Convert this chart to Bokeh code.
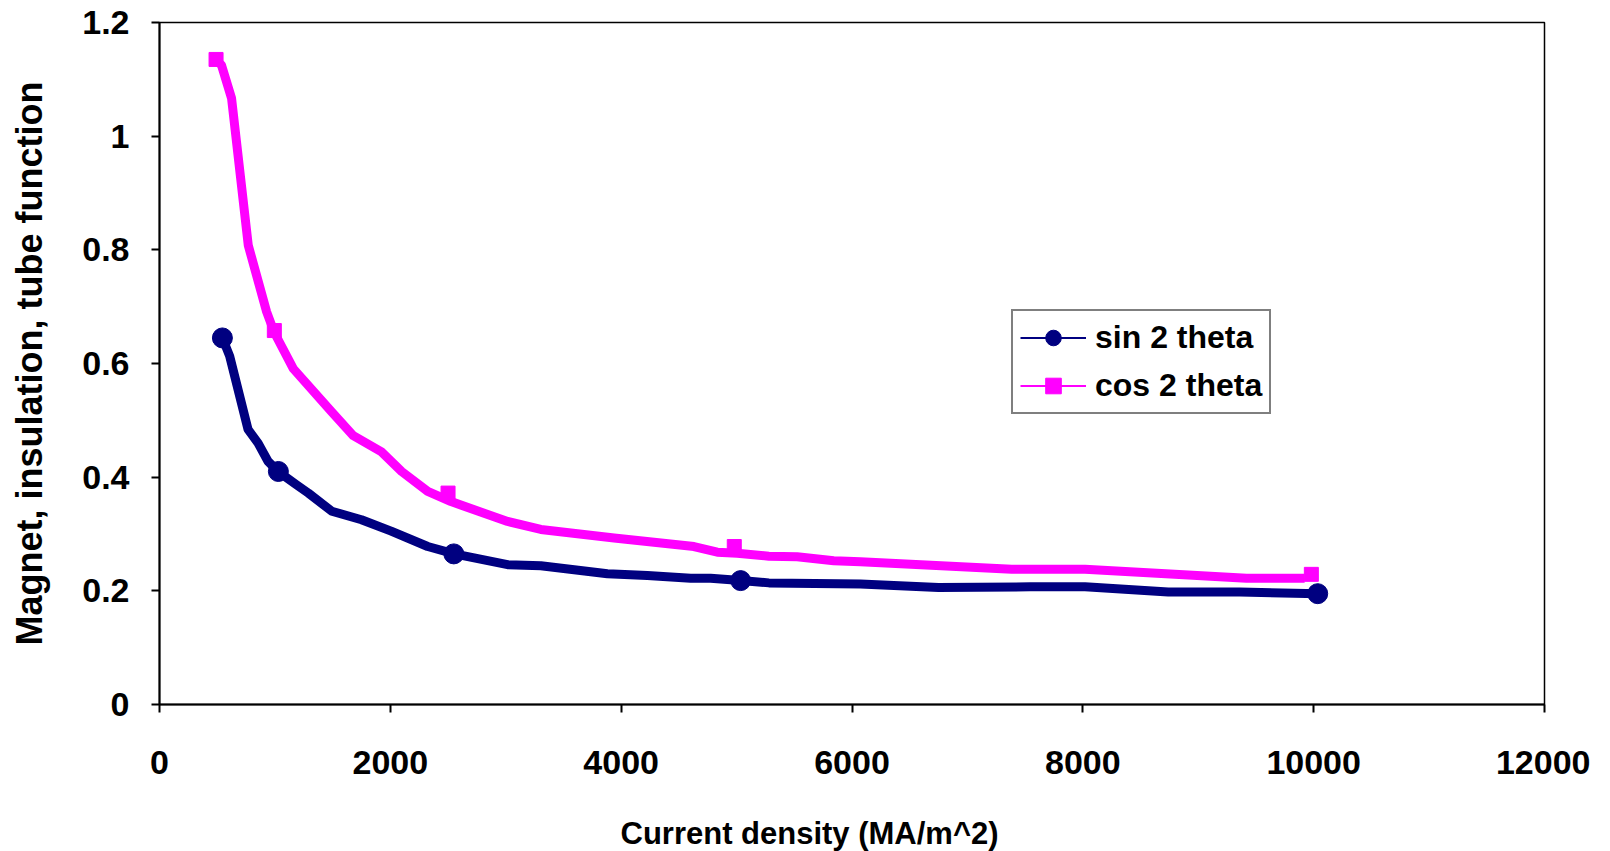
from bokeh.plotting import figure
from bokeh.models import FixedTicker, CustomJSTickFormatter, Legend, LegendItem, Range1d, Title
from bokeh.embed import file_html
from bokeh.resources import INLINE

# ---- data ----
sin_curve_x = [545, 608, 767, 854, 940, 1027, 1185, 1290, 1493, 1750, 2007, 2324, 2554,
               3016, 3304, 3881, 4227, 4602, 4775, 5035, 5280, 6073, 6750, 7543, 8019,
               8740, 9360, 10037]
sin_curve_y = [0.645, 0.613, 0.484, 0.460, 0.428, 0.410, 0.387, 0.372, 0.340, 0.325, 0.305,
               0.278, 0.265, 0.246, 0.244, 0.230, 0.227, 0.222, 0.222, 0.218, 0.214, 0.212,
               0.206, 0.207, 0.207, 0.198, 0.198, 0.195]
sin_pts_x = [545, 1030, 2550, 5035, 10035]
sin_pts_y = [0.645, 0.410, 0.265, 0.218, 0.195]

cos_curve_x = [488, 537, 624, 769, 928, 994, 1159, 1491, 1679, 1920, 2098, 2324, 2526, 3016,
               3304, 3939, 4631, 4833, 5006, 5280, 5525, 5842, 6073, 7384, 8019, 9418, 9922]
cos_curve_y = [1.134, 1.125, 1.067, 0.808, 0.691, 0.655, 0.591, 0.515, 0.473, 0.445, 0.410,
               0.375, 0.357, 0.322, 0.308, 0.293, 0.278, 0.268, 0.266, 0.261, 0.260, 0.253,
               0.251, 0.238, 0.238, 0.222, 0.222]
cos_pts_x = [490, 995, 2500, 4980, 9980]
cos_pts_y = [1.135, 0.658, 0.372, 0.278, 0.229]

x_ticks = [0, 2000, 4000, 6000, 8000, 10000, 12000]
y_ticks = [0, 0.2, 0.4, 0.6, 0.8, 1.0, 1.2]

NAVY = "#000080"
MAGENTA = "#FF00FF"
FONT = "Liberation Sans"

p = figure(width=1590, height=851, output_backend="svg", toolbar_location=None,
           x_range=Range1d(0, 12000), y_range=Range1d(0, 1.2),
           min_border_left=159, min_border_right=46, min_border_top=22, min_border_bottom=20)

p.background_fill_color = "white"
p.border_fill_color = "white"
p.outline_line_color = "black"
p.outline_line_width = 1.5
p.grid.visible = False

# thin lines underneath (used for the legend glyph), thick curves on top
thin_cos = p.line(cos_curve_x, cos_curve_y, line_color=MAGENTA, line_width=2)
thin_sin = p.line(sin_curve_x, sin_curve_y, line_color=NAVY, line_width=2)
p.line(cos_curve_x, cos_curve_y, line_color=MAGENTA, line_width=9, line_join="round")
p.line(sin_curve_x, sin_curve_y, line_color=NAVY, line_width=9, line_join="round")
mk_cos = p.scatter(cos_pts_x, cos_pts_y, marker="square", size=14,
                   fill_color=MAGENTA, line_color=MAGENTA)
mk_sin = p.scatter(sin_pts_x, sin_pts_y, marker="circle", size=20,
                   fill_color=NAVY, line_color=NAVY)

legend = Legend(items=[LegendItem(label="sin 2 theta", renderers=[thin_sin, mk_sin]),
                       LegendItem(label="cos 2 theta", renderers=[thin_cos, mk_cos])],
                location=(852, 290))
legend.label_text_font = FONT
legend.label_text_font_style = "bold"
legend.label_text_font_size = "32px"
legend.label_text_color = "black"
legend.glyph_width = 66
legend.glyph_height = 39
legend.label_height = 39
legend.label_standoff = 9
legend.spacing = 9
legend.padding = 7
legend.margin = 0
legend.border_line_color = "black"
legend.border_line_width = 2
legend.background_fill_color = "white"
legend.background_fill_alpha = 1
p.add_layout(legend)

# axes
p.xaxis.ticker = FixedTicker(ticks=x_ticks)
p.yaxis.ticker = FixedTicker(ticks=y_ticks)
p.yaxis.formatter = CustomJSTickFormatter(code="return String(Math.round(tick*10)/10);")

for ax in (p.xaxis[0], p.yaxis[0]):
    ax.axis_line_color = "black"
    ax.axis_line_width = 2
    ax.major_tick_line_color = "black"
    ax.major_tick_line_width = 2
    ax.major_tick_out = 8
    ax.major_tick_in = 0
    ax.minor_tick_line_color = None
    ax.major_label_text_font = FONT
    ax.major_label_text_font_style = "bold"
    ax.major_label_text_font_size = "34px"
    ax.major_label_text_color = "black"
    ax.axis_label_text_font = FONT
    ax.axis_label_text_font_style = "bold"
    ax.axis_label_text_color = "black"

p.xaxis.major_label_standoff = 38

# x-axis title, placed slightly left of centre as in the reference
xtitle = Title(text="Current density (MA/m^2)", align="left", offset=461,
               vertical_align="bottom",
               text_font=FONT, text_font_style="bold", text_font_size="31px",
               text_color="black", standoff=2)
try:
    xtitle.padding = (0, 0, 36, 0)
except Exception:
    xtitle.standoff = 40
p.add_layout(xtitle, "below")

p.yaxis.axis_label = "Magnet, insulation, tube function"
p.yaxis.axis_label_text_font_size = "36px"
p.yaxis.major_label_standoff = 22
p.yaxis.axis_label_standoff = 29

open("out.html", "w").write(file_html(p, INLINE))
